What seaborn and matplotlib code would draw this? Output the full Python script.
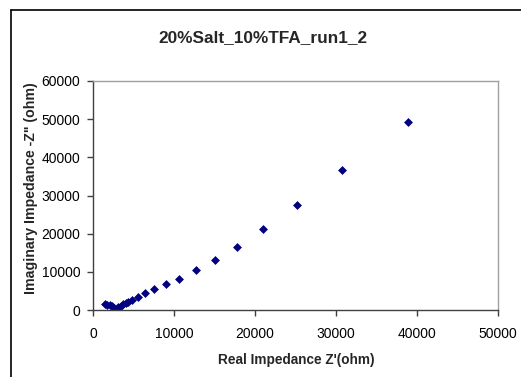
import matplotlib
matplotlib.use("Agg")
import matplotlib.pyplot as plt
from matplotlib.lines import Line2D
import seaborn as sns
import pandas as pd

real_z = [1480, 1770, 2100, 2300, 2590, 2840, 3120, 3420, 3740, 4040, 4360, 4780,
          5590, 6420, 7530, 9020, 10600, 12680, 15030, 17780, 21030, 25150, 30750, 38900]
imag_z = [1570, 1390, 1310, 1050, 600, 0, 700, 1130, 1570, 1910, 2170, 2620,
          3480, 4530, 5500, 6810, 8100, 10480, 13020, 16590, 21140, 27590, 36600, 49180]
x_ticks = [0, 10000, 20000, 30000, 40000, 50000]
y_ticks = [0, 10000, 20000, 30000, 40000, 50000, 60000]
title = "20%Salt_10%TFA_run1_2"
x_label = "Real Impedance Z'(ohm)"
y_label = "Imaginary Impedance -Z\" (ohm)"

sns.set_style("ticks")
plt.rcParams['font.family'] = ['Liberation Sans', 'DejaVu Sans']

df = pd.DataFrame({"x": real_z, "y": imag_z})

fig = plt.figure(figsize=(5.21, 3.77), dpi=100)
ax_l, ax_r, ax_t, ax_b = 93, 498, 81, 310
ax = fig.add_axes([ax_l/521, 1 - ax_b/377, (ax_r - ax_l)/521, (ax_b - ax_t)/377])

sns.scatterplot(data=df, x="x", y="y", ax=ax, marker="D", s=16,
                color="#000080", edgecolor="#000080", linewidth=0.5, legend=False)

ax.set_xlim(0, 50000)
ax.set_ylim(0, 60000)
ax.set_xticks(x_ticks)
ax.set_yticks(y_ticks)
ax.tick_params(axis="both", labelsize=10, direction="out", length=4, width=1,
               color="#404040", labelcolor="black", pad=5)
ax.tick_params(axis="x", pad=8)
for s in ["left", "bottom"]:
    ax.spines[s].set_color("#404040")
    ax.spines[s].set_linewidth(1)
for s in ["top", "right"]:
    ax.spines[s].set_visible(True)
    ax.spines[s].set_color("#a0a0a0")
    ax.spines[s].set_linewidth(1)

ax.set_xlabel(x_label, fontsize=9.8, fontweight="bold")
ax.set_ylabel(y_label, fontsize=10.2, fontweight="bold")
ax.xaxis.set_label_coords((296 - ax_l)/(ax_r - ax_l), -(360 - ax_b)/(ax_b - ax_t))
ax.yaxis.set_label_coords(-(ax_l - 31)/(ax_r - ax_l), (ax_b - 188)/(ax_b - ax_t))
ax.xaxis.label.set_va("center")
ax.yaxis.label.set_va("center")

fig.text(263/521, 1 - 38/377, title, ha="center", va="center",
         fontsize=12.4, fontweight="bold")

# outer chart-area frame: only top and left edges visible in the crop
fx = 10.5/521
fy = 1 - 9.5/377
fig.add_artist(Line2D([fx, 1.0], [fy, fy], transform=fig.transFigure,
                      color="black", linewidth=1.2))
fig.add_artist(Line2D([fx, fx], [0.0, fy], transform=fig.transFigure,
                      color="black", linewidth=1.2))

fig.savefig("out.png", dpi=100)
